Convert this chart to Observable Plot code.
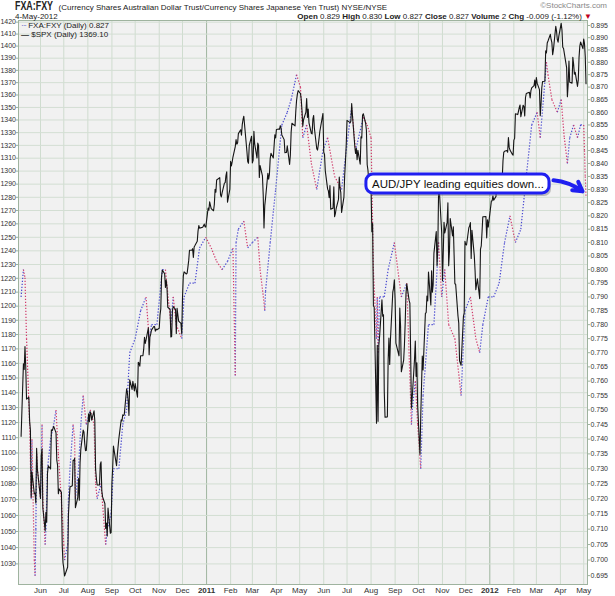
<!DOCTYPE html>
<html><head><meta charset="utf-8">
<script src="https://cdn.jsdelivr.net/npm/d3@7"></script>
<script src="https://cdn.jsdelivr.net/npm/@observablehq/plot@0.6"></script>
<style>
body{margin:0;background:#fff;font-family:"Liberation Sans",Arial,sans-serif;}
#wrap{position:relative;width:615px;height:596px;overflow:hidden}
#chart{position:absolute;left:0;top:0}
.t{position:absolute;white-space:nowrap;color:#222;font-size:8px;line-height:1}
.t b{font-weight:bold}
</style></head><body>
<div id="wrap">
<div id="chart"></div>
<div class="t" style="left:15px;top:0px;"><b style="font-size:12px;display:inline-block;transform:scaleX(0.74);transform-origin:left;margin-right:-10px">FXA:FXY</b> <span>(Currency Shares Australian Dollar Trust/Currency Shares Japanese Yen Trust) NYSE/NYSE</span></div>
<div class="t" style="left:15px;top:12.5px;">4-May-2012</div>
<div class="t" style="right:8px;top:2px;color:#888">&#169;StockCharts.com</div>
<div class="t" style="right:23px;top:12.5px;"><b>Open</b> 0.829 <b>High</b> 0.830 <b>Low</b> 0.827 <b>Close</b> 0.827 <b>Volume</b> 2 <b>Chg</b> -0.009 (-1.12%) <span style="color:#c00020">&#9660;</span></div>
<div class="t" style="left:21px;top:22px;"><span style="color:#5050c0;letter-spacing:-1px">&#183;&#183;&#183;</span> FXA:FXY (Daily) 0.827</div>
<div class="t" style="left:21px;top:30.5px;"><span style="font-weight:bold">&#8212;</span> $SPX (Daily) 1369.10</div>
</div>
<script>
// ---- data ----
const spx = [
["2010-05-07",1110.9],["2010-05-10",1159.7],["2010-05-11",1155.8],["2010-05-12",1171.7],["2010-05-13",1157.4],["2010-05-14",1135.7],["2010-05-17",1136.9],["2010-05-18",1120.8],["2010-05-19",1115.1],["2010-05-20",1071.6],["2010-05-21",1087.7],["2010-05-24",1073.7],["2010-05-25",1074.0],["2010-05-26",1067.9],["2010-05-27",1103.1],["2010-05-28",1089.4],
["2010-06-01",1070.7],["2010-06-02",1098.4],["2010-06-03",1102.8],["2010-06-04",1064.9],["2010-06-07",1050.5],["2010-06-08",1062.0],["2010-06-09",1055.7],["2010-06-10",1086.8],["2010-06-11",1091.6],["2010-06-14",1089.6],["2010-06-15",1115.2],["2010-06-16",1114.6],["2010-06-17",1116.0],["2010-06-18",1117.5],["2010-06-21",1113.2],["2010-06-22",1095.3],["2010-06-23",1092.0],["2010-06-24",1073.7],["2010-06-25",1076.8],["2010-06-28",1074.6],["2010-06-29",1041.2],["2010-06-30",1030.7],
["2010-07-01",1027.4],["2010-07-02",1022.6],["2010-07-06",1028.1],["2010-07-07",1060.3],["2010-07-08",1070.3],["2010-07-09",1078.0],["2010-07-12",1078.8],["2010-07-13",1095.3],["2010-07-14",1095.2],["2010-07-15",1096.5],["2010-07-16",1064.9],["2010-07-19",1071.3],["2010-07-20",1083.5],["2010-07-21",1069.6],["2010-07-22",1093.7],["2010-07-23",1102.7],["2010-07-26",1115.0],["2010-07-27",1113.8],["2010-07-28",1106.1],["2010-07-29",1101.5],["2010-07-30",1101.6],
["2010-08-02",1125.9],["2010-08-03",1120.5],["2010-08-04",1127.2],["2010-08-05",1125.8],["2010-08-06",1121.6],["2010-08-09",1127.8],["2010-08-10",1121.1],["2010-08-11",1089.5],["2010-08-12",1083.6],["2010-08-13",1079.3],["2010-08-16",1079.4],["2010-08-17",1092.5],["2010-08-18",1094.2],["2010-08-19",1075.6],["2010-08-20",1071.7],["2010-08-23",1067.4],["2010-08-24",1051.9],["2010-08-25",1055.3],["2010-08-26",1047.2],["2010-08-27",1064.6],["2010-08-30",1048.9],["2010-08-31",1049.3],
["2010-09-01",1080.3],["2010-09-02",1090.1],["2010-09-03",1104.5],["2010-09-07",1091.8],["2010-09-08",1098.9],["2010-09-09",1104.2],["2010-09-10",1109.6],["2010-09-13",1121.9],["2010-09-14",1121.1],["2010-09-15",1125.1],["2010-09-16",1124.7],["2010-09-17",1125.6],["2010-09-20",1142.7],["2010-09-21",1139.8],["2010-09-22",1134.3],["2010-09-23",1124.8],["2010-09-24",1148.7],["2010-09-27",1142.2],["2010-09-28",1147.7],["2010-09-29",1144.7],["2010-09-30",1141.2],
["2010-10-01",1146.2],["2010-10-04",1137.0],["2010-10-05",1160.8],["2010-10-06",1160.0],["2010-10-07",1158.1],["2010-10-08",1165.2],["2010-10-11",1165.3],["2010-10-12",1169.8],["2010-10-13",1178.1],["2010-10-14",1173.8],["2010-10-15",1176.2],["2010-10-18",1184.7],["2010-10-19",1165.9],["2010-10-20",1178.2],["2010-10-21",1180.3],["2010-10-22",1183.1],["2010-10-25",1185.6],["2010-10-26",1185.6],["2010-10-27",1182.4],["2010-10-28",1183.8],["2010-10-29",1183.3],
["2010-11-01",1184.4],["2010-11-02",1193.6],["2010-11-03",1198.0],["2010-11-04",1221.1],["2010-11-05",1225.9],["2010-11-08",1223.3],["2010-11-09",1213.4],["2010-11-10",1218.7],["2010-11-11",1213.5],["2010-11-12",1199.2],["2010-11-15",1197.8],["2010-11-16",1178.3],["2010-11-17",1178.6],["2010-11-18",1196.7],["2010-11-19",1199.7],["2010-11-22",1197.8],["2010-11-23",1180.7],["2010-11-24",1198.4],["2010-11-26",1189.4],["2010-11-29",1187.8],["2010-11-30",1180.6],
["2010-12-01",1206.1],["2010-12-02",1221.5],["2010-12-03",1224.7],["2010-12-06",1223.1],["2010-12-07",1223.8],["2010-12-08",1228.3],["2010-12-09",1233.0],["2010-12-10",1240.4],["2010-12-13",1240.5],["2010-12-14",1241.6],["2010-12-15",1235.2],["2010-12-16",1242.9],["2010-12-17",1243.9],["2010-12-20",1247.1],["2010-12-21",1254.6],["2010-12-22",1258.8],["2010-12-23",1256.8],["2010-12-27",1257.5],["2010-12-28",1258.5],["2010-12-29",1259.8],["2010-12-30",1257.9],["2010-12-31",1257.6],
["2011-01-03",1271.9],["2011-01-04",1270.2],["2011-01-05",1276.6],["2011-01-06",1273.9],["2011-01-07",1271.5],["2011-01-10",1269.8],["2011-01-11",1274.5],["2011-01-12",1286.0],["2011-01-13",1283.8],["2011-01-14",1293.2],["2011-01-18",1295.0],["2011-01-19",1281.9],["2011-01-20",1280.3],["2011-01-21",1283.4],["2011-01-24",1290.8],["2011-01-25",1291.2],["2011-01-26",1296.6],["2011-01-27",1299.5],["2011-01-28",1276.3],["2011-01-31",1286.1],
["2011-02-01",1307.6],["2011-02-02",1304.0],["2011-02-03",1307.1],["2011-02-04",1310.9],["2011-02-07",1319.1],["2011-02-08",1324.6],["2011-02-09",1320.9],["2011-02-10",1321.9],["2011-02-11",1329.2],["2011-02-14",1332.3],["2011-02-15",1328.0],["2011-02-16",1336.3],["2011-02-17",1340.4],["2011-02-18",1343.0],["2011-02-22",1315.4],["2011-02-23",1307.4],["2011-02-24",1306.1],["2011-02-25",1319.9],["2011-02-28",1327.2],
["2011-03-01",1306.3],["2011-03-02",1308.4],["2011-03-03",1331.0],["2011-03-04",1321.2],["2011-03-07",1310.1],["2011-03-08",1321.8],["2011-03-09",1320.0],["2011-03-10",1295.1],["2011-03-11",1304.3],["2011-03-14",1296.4],["2011-03-15",1281.9],["2011-03-16",1256.9],["2011-03-17",1273.7],["2011-03-18",1279.2],["2011-03-21",1298.4],["2011-03-22",1293.8],["2011-03-23",1297.5],["2011-03-24",1309.7],["2011-03-25",1313.8],["2011-03-28",1310.2],["2011-03-29",1319.4],["2011-03-30",1328.3],["2011-03-31",1325.8],
["2011-04-01",1332.4],["2011-04-04",1332.9],["2011-04-05",1332.6],["2011-04-06",1335.5],["2011-04-07",1333.5],["2011-04-08",1328.2],["2011-04-11",1324.5],["2011-04-12",1314.2],["2011-04-13",1314.4],["2011-04-14",1314.5],["2011-04-15",1319.7],["2011-04-18",1305.1],["2011-04-19",1312.6],["2011-04-20",1330.4],["2011-04-21",1337.4],["2011-04-25",1335.3],["2011-04-26",1347.2],["2011-04-27",1355.7],["2011-04-28",1360.5],["2011-04-29",1363.6],
["2011-05-02",1361.2],["2011-05-03",1356.6],["2011-05-04",1347.3],["2011-05-05",1335.1],["2011-05-06",1340.2],["2011-05-09",1346.3],["2011-05-10",1357.2],["2011-05-11",1342.1],["2011-05-12",1348.7],["2011-05-13",1337.8],["2011-05-16",1329.5],["2011-05-17",1329.0],["2011-05-18",1340.7],["2011-05-19",1343.6],["2011-05-20",1333.3],["2011-05-23",1317.4],["2011-05-24",1316.3],["2011-05-25",1320.5],["2011-05-26",1325.7],["2011-05-27",1331.1],["2011-05-31",1345.2],
["2011-06-01",1314.6],["2011-06-02",1312.9],["2011-06-03",1300.2],["2011-06-06",1286.2],["2011-06-07",1284.9],["2011-06-08",1279.6],["2011-06-09",1289.0],["2011-06-10",1271.0],["2011-06-13",1271.8],["2011-06-14",1287.9],["2011-06-15",1265.4],["2011-06-16",1267.6],["2011-06-17",1271.5],["2011-06-20",1278.4],["2011-06-21",1295.5],["2011-06-22",1287.1],["2011-06-23",1283.5],["2011-06-24",1268.5],["2011-06-27",1280.1],["2011-06-28",1296.7],["2011-06-29",1307.6],["2011-06-30",1320.6],
["2011-07-01",1339.7],["2011-07-05",1337.9],["2011-07-06",1339.2],["2011-07-07",1353.2],["2011-07-08",1343.8],["2011-07-11",1319.5],["2011-07-12",1313.6],["2011-07-13",1317.7],["2011-07-14",1308.9],["2011-07-15",1316.1],["2011-07-18",1305.4],["2011-07-19",1326.7],["2011-07-20",1325.8],["2011-07-21",1343.8],["2011-07-22",1345.0],["2011-07-25",1337.4],["2011-07-26",1331.9],["2011-07-27",1304.9],["2011-07-28",1300.7],["2011-07-29",1292.3],
["2011-08-01",1286.9],["2011-08-02",1254.1],["2011-08-03",1260.3],["2011-08-04",1200.1],["2011-08-05",1199.4],["2011-08-08",1119.5],["2011-08-09",1172.5],["2011-08-10",1120.8],["2011-08-11",1172.6],["2011-08-12",1178.8],["2011-08-15",1204.5],["2011-08-16",1192.8],["2011-08-17",1193.9],["2011-08-18",1140.7],["2011-08-19",1123.5],["2011-08-22",1123.8],["2011-08-23",1162.4],["2011-08-24",1177.6],["2011-08-25",1159.3],["2011-08-26",1176.8],["2011-08-29",1210.1],["2011-08-30",1212.9],["2011-08-31",1218.9],
["2011-09-01",1204.4],["2011-09-02",1174.0],["2011-09-06",1165.2],["2011-09-07",1198.6],["2011-09-08",1185.9],["2011-09-09",1154.2],["2011-09-12",1162.3],["2011-09-13",1172.9],["2011-09-14",1188.7],["2011-09-15",1209.1],["2011-09-16",1216.0],["2011-09-19",1204.1],["2011-09-20",1202.1],["2011-09-21",1166.8],["2011-09-22",1129.6],["2011-09-23",1136.4],["2011-09-26",1163.0],["2011-09-27",1175.4],["2011-09-28",1151.1],["2011-09-29",1160.4],["2011-09-30",1131.4],
["2011-10-03",1099.2],["2011-10-04",1124.0],["2011-10-05",1144.0],["2011-10-06",1165.0],["2011-10-07",1155.5],["2011-10-10",1194.9],["2011-10-11",1195.5],["2011-10-12",1207.3],["2011-10-13",1203.7],["2011-10-14",1224.6],["2011-10-17",1200.9],["2011-10-18",1225.4],["2011-10-19",1209.9],["2011-10-20",1215.4],["2011-10-21",1238.3],["2011-10-24",1254.2],["2011-10-25",1229.1],["2011-10-26",1242.0],["2011-10-27",1284.6],["2011-10-28",1285.1],["2011-10-31",1253.3],
["2011-11-01",1218.3],["2011-11-02",1237.9],["2011-11-03",1261.2],["2011-11-04",1253.2],["2011-11-07",1261.1],["2011-11-08",1275.9],["2011-11-09",1229.1],["2011-11-10",1239.7],["2011-11-11",1263.9],["2011-11-14",1251.0],["2011-11-15",1257.8],["2011-11-16",1236.9],["2011-11-17",1216.1],["2011-11-18",1215.7],["2011-11-21",1193.0],["2011-11-22",1188.0],["2011-11-23",1161.8],["2011-11-25",1158.7],["2011-11-28",1192.6],["2011-11-29",1195.2],["2011-11-30",1247.0],
["2011-12-01",1244.6],["2011-12-02",1244.3],["2011-12-05",1257.1],["2011-12-06",1258.5],["2011-12-07",1261.0],["2011-12-08",1234.4],["2011-12-09",1255.2],["2011-12-12",1236.5],["2011-12-13",1225.7],["2011-12-14",1211.8],["2011-12-15",1215.8],["2011-12-16",1219.7],["2011-12-19",1205.4],["2011-12-20",1241.3],["2011-12-21",1243.7],["2011-12-22",1254.0],["2011-12-23",1265.3],["2011-12-27",1265.4],["2011-12-28",1249.6],["2011-12-29",1263.0],["2011-12-30",1257.6],
["2012-01-03",1277.1],["2012-01-04",1277.3],["2012-01-05",1281.1],["2012-01-06",1277.8],["2012-01-09",1280.7],["2012-01-10",1292.1],["2012-01-11",1292.5],["2012-01-12",1295.5],["2012-01-13",1289.1],["2012-01-17",1293.7],["2012-01-18",1308.0],["2012-01-19",1314.5],["2012-01-20",1315.4],["2012-01-23",1316.0],["2012-01-24",1314.7],["2012-01-25",1326.1],["2012-01-26",1318.4],["2012-01-27",1316.3],["2012-01-30",1313.0],["2012-01-31",1312.4],
["2012-02-01",1324.1],["2012-02-02",1325.5],["2012-02-03",1344.9],["2012-02-06",1344.3],["2012-02-07",1347.1],["2012-02-08",1350.0],["2012-02-09",1352.0],["2012-02-10",1342.6],["2012-02-13",1351.8],["2012-02-14",1350.5],["2012-02-15",1343.2],["2012-02-16",1358.0],["2012-02-17",1361.2],["2012-02-21",1362.2],["2012-02-22",1357.7],["2012-02-23",1363.5],["2012-02-24",1365.7],["2012-02-27",1367.6],["2012-02-28",1372.2],["2012-02-29",1365.7],
["2012-03-01",1374.1],["2012-03-02",1369.6],["2012-03-05",1364.3],["2012-03-06",1343.4],["2012-03-07",1352.6],["2012-03-08",1365.9],["2012-03-09",1370.9],["2012-03-12",1371.1],["2012-03-13",1396.0],["2012-03-14",1394.3],["2012-03-15",1402.6],["2012-03-16",1404.2],["2012-03-19",1409.8],["2012-03-20",1405.5],["2012-03-21",1402.9],["2012-03-22",1392.8],["2012-03-23",1397.1],["2012-03-26",1416.5],["2012-03-27",1412.5],["2012-03-28",1405.5],["2012-03-29",1403.3],["2012-03-30",1408.5],
["2012-04-02",1419.0],["2012-04-03",1413.4],["2012-04-04",1399.0],["2012-04-05",1398.1],["2012-04-09",1382.2],["2012-04-10",1358.6],["2012-04-11",1368.7],["2012-04-12",1387.6],["2012-04-13",1370.3],["2012-04-16",1369.6],["2012-04-17",1390.8],["2012-04-18",1385.1],["2012-04-19",1376.9],["2012-04-20",1378.5],["2012-04-23",1366.9],["2012-04-24",1372.0],["2012-04-25",1390.7],["2012-04-26",1400.0],["2012-04-27",1403.4],["2012-04-30",1397.9],
["2012-05-01",1405.8],["2012-05-02",1402.3],["2012-05-03",1391.6],["2012-05-04",1369.1]
];
const fxa = [
["2010-05-07",0.790],["2010-05-10",0.800],["2010-05-12",0.797],["2010-05-14",0.775],["2010-05-18",0.745],["2010-05-20",0.720],["2010-05-21",0.740],["2010-05-24",0.700],["2010-05-25",0.695],["2010-05-26",0.710],["2010-05-27",0.735],["2010-05-28",0.730],
["2010-06-01",0.720],["2010-06-03",0.745],["2010-06-04",0.720],["2010-06-07",0.705],["2010-06-08",0.710],["2010-06-10",0.730],["2010-06-14",0.740],["2010-06-18",0.745],["2010-06-21",0.750],["2010-06-24",0.735],["2010-06-29",0.715],
["2010-07-01",0.705],["2010-07-02",0.700],["2010-07-06",0.705],["2010-07-07",0.720],["2010-07-09",0.730],["2010-07-13",0.745],["2010-07-15",0.740],["2010-07-16",0.720],["2010-07-20",0.730],["2010-07-23",0.745],["2010-07-26",0.755],["2010-07-30",0.745],
["2010-08-04",0.750],["2010-08-09",0.745],["2010-08-11",0.725],["2010-08-13",0.720],["2010-08-18",0.725],["2010-08-24",0.705],["2010-08-26",0.710],["2010-08-31",0.715],
["2010-09-03",0.730],["2010-09-10",0.730],["2010-09-15",0.745],["2010-09-20",0.750],["2010-09-24",0.770],["2010-10-01",0.775],["2010-10-08",0.785],["2010-10-15",0.790],["2010-10-19",0.775],["2010-10-22",0.780],["2010-10-29",0.780],
["2010-11-05",0.800],["2010-11-09",0.800],["2010-11-16",0.780],["2010-11-19",0.790],["2010-11-23",0.780],["2010-11-30",0.775],["2010-12-03",0.790],["2010-12-10",0.795],["2010-12-17",0.795],["2010-12-23",0.808],["2010-12-31",0.812],
["2011-01-07",0.808],["2011-01-14",0.803],["2011-01-21",0.800],["2011-01-28",0.803],["2011-02-04",0.808],["2011-02-07",0.762],["2011-02-08",0.810],["2011-02-11",0.815],["2011-02-18",0.818],["2011-02-23",0.808],["2011-03-01",0.810],["2011-03-08",0.812],["2011-03-11",0.800],["2011-03-16",0.788],["2011-03-17",0.785],["2011-03-18",0.792],["2011-03-24",0.810],["2011-03-31",0.830],
["2011-04-08",0.855],["2011-04-15",0.860],["2011-04-20",0.865],["2011-04-27",0.875],["2011-05-02",0.870],["2011-05-05",0.850],["2011-05-10",0.855],["2011-05-16",0.840],["2011-05-23",0.830],["2011-05-31",0.845],
["2011-06-06",0.850],["2011-06-15",0.835],["2011-06-24",0.830],["2011-06-30",0.845],["2011-07-07",0.862],["2011-07-12",0.845],["2011-07-22",0.858],["2011-07-27",0.855],
["2011-08-01",0.850],["2011-08-04",0.800],["2011-08-08",0.775],["2011-08-09",0.790],["2011-08-10",0.770],["2011-08-12",0.790],["2011-08-18",0.790],["2011-08-23",0.800],["2011-08-31",0.810],
["2011-09-09",0.790],["2011-09-16",0.795],["2011-09-22",0.745],["2011-09-23",0.750],["2011-09-27",0.760],["2011-09-30",0.745],["2011-10-04",0.730],["2011-10-07",0.755],["2011-10-14",0.780],["2011-10-21",0.780],["2011-10-27",0.810],["2011-10-31",0.790],
["2011-11-04",0.800],["2011-11-09",0.780],["2011-11-17",0.775],["2011-11-25",0.755],["2011-11-30",0.785],["2011-12-07",0.790],["2011-12-14",0.775],["2011-12-19",0.770],["2011-12-23",0.780],["2011-12-30",0.790],
["2012-01-06",0.790],["2012-01-13",0.795],["2012-01-20",0.810],["2012-01-27",0.820],["2012-02-03",0.810],["2012-02-10",0.815],["2012-02-17",0.835],["2012-02-24",0.855],["2012-03-02",0.860],["2012-03-06",0.850],["2012-03-14",0.880],["2012-03-16",0.875],["2012-03-21",0.865],["2012-03-28",0.860],
["2012-04-02",0.865],["2012-04-06",0.850],["2012-04-10",0.840],["2012-04-13",0.850],["2012-04-18",0.855],["2012-04-23",0.850],["2012-04-27",0.855],["2012-05-01",0.855],["2012-05-02",0.845],["2012-05-03",0.835],["2012-05-04",0.827]
];
const leftTicks = d3.range(1030, 1421, 10);
const rightTicks = d3.range(0, 41).map(i => +(0.695 + i * 0.005).toFixed(3));
const monthTicks = d3.utcMonths(new Date("2010-06-01"), new Date("2012-05-02"));
// annotation, in right-axis (FXA:FXY) units
const note = [{x1: "2011-07-26", x2: "2012-03-17T22:00", r1: 0.8285, r2: 0.8357, label: "AUD/JPY leading equities down..."}];
const noteArrow = [{x1: "2012-03-23", r1: 0.8335, x2: "2012-04-29T12:00", r2: 0.8293}];

// ---- scales ----
const L = [1017.5, 1421.4];   // left (SPX) domain
const R = [0.69217, 0.89706]; // right (FXA:FXY) domain
const toLeft = r => L[0] * Math.exp(Math.log(r / R[0]) / Math.log(R[1] / R[0]) * Math.log(L[1] / L[0]));
const toRight = l => R[0] * Math.exp(Math.log(l / L[0]) / Math.log(L[1] / L[0]) * Math.log(R[1] / R[0]));

const spxData = spx.map(([d, v]) => ({date: new Date(d), v}));
const fxaData = fxa.map(([d, v]) => ({date: new Date(d), v: toLeft(v)}));
const segs = d3.pairs(fxaData).map(([a, b]) => ({x1: a.date, y1: a.v, x2: b.date, y2: b.v, up: b.v >= a.v}));
const pd = s => new Date(s);

const yearTicks = monthTicks.filter(d => d.getUTCMonth() === 0);
const otherTicks = monthTicks.filter(d => d.getUTCMonth() !== 0);

const chart = Plot.plot({
  width: 615, height: 596,
  marginLeft: 18, marginRight: 28, marginTop: 20, marginBottom: 12,
  style: {fontFamily: "Liberation Sans, Arial, sans-serif", fontSize: "8px", color: "#333", background: "transparent"},
  x: {type: "utc", domain: [new Date("2010-05-03T15:36Z"), new Date("2012-05-05T21:36Z")]},
  y: {type: "log", domain: L},
  marks: [
    Plot.frame({fill: "#f1f1f1", stroke: null}),
    Plot.gridX(otherTicks, {stroke: "#cfdccf", strokeOpacity: 1}),
    Plot.gridX(yearTicks, {stroke: "#9fb59f", strokeOpacity: 1}),
    Plot.gridY(leftTicks, {stroke: "#d3ded3", strokeOpacity: 1}),
    Plot.frame({stroke: "#9fb39f"}),
    Plot.axisY(leftTicks, {anchor: "left", tickSize: 2, tickPadding: 0.5, fontSize: 7, tickFormat: d3.format("d"), label: null, stroke: "#9fb39f"}),
    Plot.axisY(rightTicks.map(toLeft), {anchor: "right", tickSize: 2, tickPadding: 1, fontSize: 7, tickFormat: d => d3.format(".3f")(toRight(d)), label: null, stroke: "#9fb39f"}),
    Plot.axisX(otherTicks, {tickSize: 0, tickPadding: 3, tickFormat: d3.utcFormat("%b"), label: null}),
    Plot.axisX(yearTicks, {tickSize: 0, tickPadding: 3, tickFormat: d3.utcFormat("%Y"), fontWeight: "bold", label: null}),
    Plot.link(segs.filter(s => s.up), {x1: "x1", y1: "y1", x2: "x2", y2: "y2", stroke: "#4848d0", strokeWidth: 1.2, strokeDasharray: "1.3,1.7"}),
    Plot.link(segs.filter(s => !s.up), {x1: "x1", y1: "y1", x2: "x2", y2: "y2", stroke: "#d03a6a", strokeWidth: 1.2, strokeDasharray: "1.3,1.7"}),
    Plot.line(spxData, {x: "date", y: "v", stroke: "#151515", strokeWidth: 1.1}),
    Plot.rect(note, {x1: d => pd(d.x1), x2: d => pd(d.x2), y1: d => toLeft(d.r1), y2: d => toLeft(d.r2), fill: "#777", fillOpacity: 0.45, dx: 2, dy: 3, rx: 7}),
    Plot.rect(note, {x1: d => pd(d.x1), x2: d => pd(d.x2), y1: d => toLeft(d.r1), y2: d => toLeft(d.r2), fill: "white", stroke: "#1f1ff0", strokeWidth: 3, rx: 7}),
    Plot.text(note, {x: d => new Date((pd(d.x1).getTime() + pd(d.x2).getTime()) / 2), y: d => toLeft(Math.sqrt(d.r1 * d.r2)), text: "label", fontSize: 11.5, fill: "#111"}),
    Plot.arrow(noteArrow, {x1: d => pd(d.x1), y1: d => toLeft(d.r1), x2: d => pd(d.x2), y2: d => toLeft(d.r2), stroke: "#1f1ff0", strokeWidth: 4, headLength: 9, bend: 15})
  ]
});
document.getElementById("chart").appendChild(chart);
</script>
</body></html>
